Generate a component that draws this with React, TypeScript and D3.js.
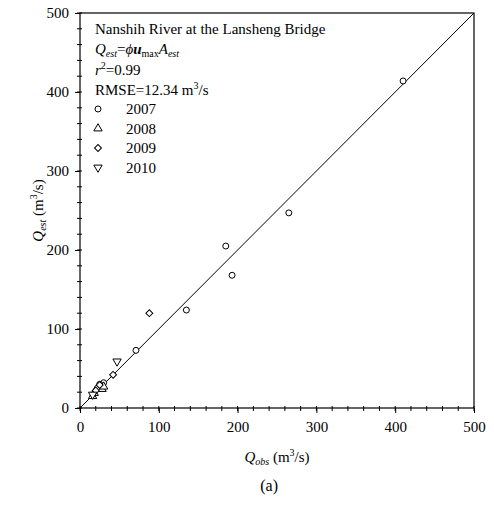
import React, { useRef, useEffect } from "react";
import * as d3 from "d3";

const W = 494;
const H = 506;
const MARGIN = { top: 13, right: 20, bottom: 98, left: 80 };
const FONT = "'Liberation Serif', 'Times New Roman', serif";

const obs2007 = [410, 265, 185, 193, 135, 71, 30, 28, 22, 25];
const est2007 = [414, 247, 205, 168, 124, 73, 32, 28, 25, 30];
const obs2008 = [16, 18, 28, 30];
const est2008 = [15, 19, 24, 27];
const obs2009 = [88, 42, 25, 20];
const est2009 = [120, 42, 29, 22];
const obs2010 = [47, 16];
const est2010 = [59, 17];

const YEARS = ["2007", "2008", "2009", "2010"];
const MAJOR_TICKS = [0, 100, 200, 300, 400, 500];

export default function App() {
  const svgRef = useRef<SVGSVGElement>(null);

  useEffect(() => {
    const svg = d3.select(svgRef.current);
    svg.selectAll("*").remove();

    const iw = W - MARGIN.left - MARGIN.right;
    const ih = H - MARGIN.top - MARGIN.bottom;

    const x = d3.scaleLinear().domain([0, 500]).range([MARGIN.left, MARGIN.left + iw]);
    const y = d3.scaleLinear().domain([0, 500]).range([MARGIN.top + ih, MARGIN.top]);

    svg.attr("width", W).attr("height", H).style("font-family", FONT);

    // frame
    svg
      .append("rect")
      .attr("x", x(0))
      .attr("y", y(500))
      .attr("width", iw)
      .attr("height", ih)
      .attr("fill", "none")
      .attr("stroke", "#000")
      .attr("stroke-width", 1.2);

    // 1:1 line
    svg
      .append("line")
      .attr("x1", x(0))
      .attr("y1", y(0))
      .attr("x2", x(500))
      .attr("y2", y(500))
      .attr("stroke", "#000")
      .attr("stroke-width", 1);

    const minor = d3.range(0, 501, 20);

    // x axis
    const xAxis = svg
      .append("g")
      .attr("transform", `translate(0,${y(0)})`)
      .call(d3.axisBottom(x).tickValues(MAJOR_TICKS).tickSize(5).tickPadding(8));
    xAxis.select(".domain").remove();
    xAxis.selectAll("text").attr("font-size", 15).attr("font-family", FONT).attr("fill", "#000");
    svg
      .append("g")
      .selectAll("line")
      .data(minor)
      .join("line")
      .attr("x1", (d) => x(d))
      .attr("x2", (d) => x(d))
      .attr("y1", y(0) - 2)
      .attr("y2", y(0) + 3)
      .attr("stroke", "#000");

    // y axis
    const yAxis = svg
      .append("g")
      .attr("transform", `translate(${x(0)},0)`)
      .call(d3.axisLeft(y).tickValues(MAJOR_TICKS).tickSize(5).tickPadding(6));
    yAxis.select(".domain").remove();
    yAxis.selectAll("text").attr("font-size", 15).attr("font-family", FONT).attr("fill", "#000");
    svg
      .append("g")
      .selectAll("line")
      .data(minor)
      .join("line")
      .attr("x1", x(0) - 3)
      .attr("x2", x(0) + 2)
      .attr("y1", (d) => y(d))
      .attr("y2", (d) => y(d))
      .attr("stroke", "#000");

    // markers: circle, up-triangle, diamond (square at 45deg), down-triangle
    const sym = [d3.symbolCircle, d3.symbolTriangle, d3.symbolSquare, d3.symbolTriangle];
    const symSize = [28, 30, 24, 30];
    const rotation = [0, 0, 45, 180];
    const series = [
      [obs2007, est2007],
      [obs2008, est2008],
      [obs2009, est2009],
      [obs2010, est2010],
    ];
    const shape = (i: number) => d3.symbol().type(sym[i]).size(symSize[i])();
    const rot = (i: number) => (rotation[i] ? ` rotate(${rotation[i]})` : "");

    series.forEach(([xs, ys], si) => {
      svg
        .append("g")
        .selectAll("path")
        .data(xs.map((v, k) => [v, ys[k]]))
        .join("path")
        .attr("d", shape(si))
        .attr("transform", (d) => `translate(${x(d[0])},${y(d[1])})${rot(si)}`)
        .attr("fill", "#fff")
        .attr("stroke", "#000")
        .attr("stroke-width", 1);
    });

    // legend block
    const lx = 95;
    const lg = svg.append("g").attr("font-size", 15).attr("fill", "#000");
    lg.append("text").attr("x", lx).attr("y", 34).text("Nanshih River at the Lansheng Bridge");

    const eq = lg.append("text").attr("x", lx).attr("y", 54);
    eq.append("tspan").attr("font-style", "italic").text("Q");
    eq.append("tspan").attr("font-style", "italic").attr("font-size", 10).attr("dy", 3).text("est");
    eq.append("tspan").attr("dy", -3).text("=");
    eq.append("tspan").attr("font-style", "italic").text("ϕ");
    eq.append("tspan").attr("font-style", "italic").attr("font-weight", "bold").text("u");
    eq.append("tspan").attr("font-size", 10).attr("dy", 3).text("max");
    eq.append("tspan").attr("font-style", "italic").attr("dy", -3).text("A");
    eq.append("tspan").attr("font-style", "italic").attr("font-size", 10).attr("dy", 3).text("est");

    const r2 = lg.append("text").attr("x", lx).attr("y", 75);
    r2.append("tspan").attr("font-style", "italic").text("r");
    r2.append("tspan").attr("font-size", 10).attr("dy", -6).text("2");
    r2.append("tspan").attr("dy", 6).text("=0.99");

    const rm = lg.append("text").attr("x", lx).attr("y", 95);
    rm.append("tspan").text("RMSE=12.34 m");
    rm.append("tspan").attr("font-size", 10).attr("dy", -6).text("3");
    rm.append("tspan").attr("dy", 6).text("/s");

    YEARS.forEach((yr, i) => {
      const cy = 109 + i * 19.5;
      lg.append("path")
        .attr("d", shape(i))
        .attr("transform", `translate(${lx + 3},${cy})${rot(i)}`)
        .attr("fill", "#fff")
        .attr("stroke", "#000");
      lg.append("text").attr("x", 126).attr("y", cy + 5).text(yr);
    });

    // axis titles
    const xt = svg
      .append("text")
      .attr("x", x(250))
      .attr("y", y(0) + 54)
      .attr("text-anchor", "middle")
      .attr("font-size", 15);
    xt.append("tspan").attr("font-style", "italic").text("Q");
    xt.append("tspan").attr("font-style", "italic").attr("font-size", 10).attr("dy", 3).text("obs");
    xt.append("tspan").attr("dy", -3).text(" (m");
    xt.append("tspan").attr("font-size", 10).attr("dy", -6).text("3");
    xt.append("tspan").attr("dy", 6).text("/s)");

    const yt = svg
      .append("text")
      .attr("transform", `translate(${x(0) - 37},${y(250)}) rotate(-90)`)
      .attr("text-anchor", "middle")
      .attr("font-size", 15);
    yt.append("tspan").attr("font-style", "italic").text("Q");
    yt.append("tspan").attr("font-style", "italic").attr("font-size", 10).attr("dy", 3).text("est");
    yt.append("tspan").attr("dy", -3).text(" (m");
    yt.append("tspan").attr("font-size", 10).attr("dy", -6).text("3");
    yt.append("tspan").attr("dy", 6).text("/s)");

    svg
      .append("text")
      .attr("x", x(240))
      .attr("y", y(0) + 83)
      .attr("text-anchor", "middle")
      .attr("font-size", 16)
      .text("(a)");
  }, []);

  return (
    <svg
      ref={svgRef}
      style={{ position: "absolute", left: 0, top: 0, background: "#fff" }}
    />
  );
}
